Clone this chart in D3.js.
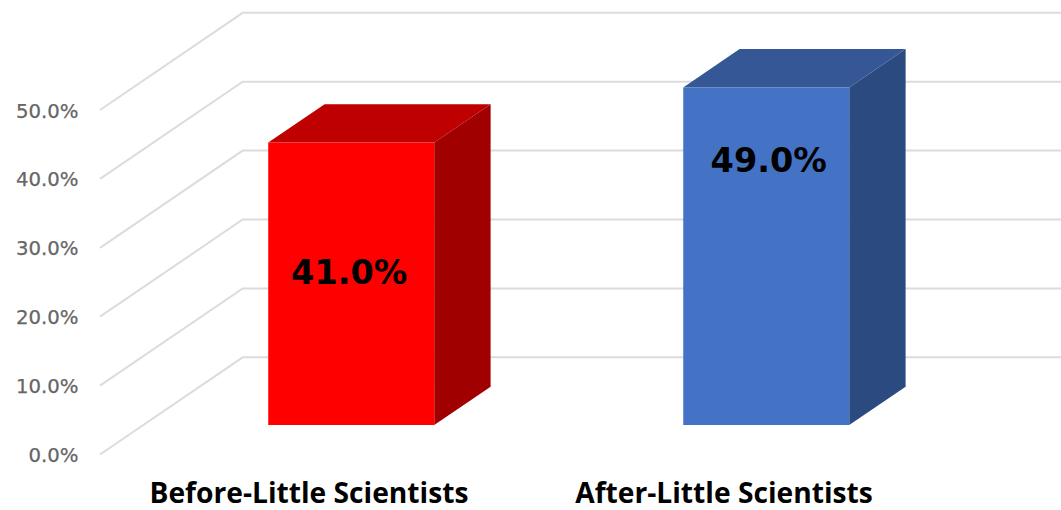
<!DOCTYPE html>
<html><head><meta charset="utf-8">
<style>html,body{margin:0;padding:0;background:#fff;overflow:hidden}svg{display:block}</style>
<script src="https://cdn.jsdelivr.net/npm/d3@7/dist/d3.min.js"></script>
</head><body><svg id="c" width="1061" height="510"></svg>
<script>
const categories = ["Before-Little Scientists", "After-Little Scientists"];
const values = [41, 49];
const valueLabels = ["41.0%", "49.0%"];
const tickValues = [0, 10, 20, 30, 40, 50];
const tickLabels = ["0.0%", "10.0%", "20.0%", "30.0%", "40.0%", "50.0%"];
const faceColors = ["#FF0000", "#4472C4"];
const topColors = ["#BE0000", "#355795"];
const sideColors = ["#A00000", "#2B4A80"];

const svg = d3.select("#c");
const y = d3.scaleLinear().domain([0, 50]).range([454.5, 110]);
const x = d3.scaleBand().domain(categories).range([100.5, 930.5]).paddingInner(0.6).paddingOuter(0.3);
const depthX = 142.7, depthY = 97.2, z0 = 0.303, z1 = 0.698;
const P = (px, v, z) => [px + depthX * z, y(v) - depthY * z];
const path = pts => d3.line()(pts) + "Z";

const grid = svg.append("g").attr("fill", "none").attr("stroke", "#dcdcdc").attr("stroke-width", 2);
grid.selectAll("path").data(tickValues).join("path")
  .attr("d", v => d3.line()([P(100, v, 0), P(100, v, 1), [1061, y(v) - depthY]]));

svg.append("g").selectAll("text").data(tickValues).join("text")
  .attr("x", 78.5).attr("y", v => y(v) + 7.5)
  .attr("text-anchor", "end").attr("fill", "#666666")
  .attr("stroke", "#666666").attr("stroke-width", 0.25)
  .attr("font-family", "DejaVu Sans").attr("font-size", 19.7)
  .text((v, i) => tickLabels[i]);

const bars = svg.append("g").selectAll("g").data(categories).join("g");
bars.append("path").attr("fill", (c, i) => sideColors[i]).attr("d", (c, i) => {
  const r = x(c) + x.bandwidth();
  return path([P(r, 0, z0), P(r, 0, z1), P(r, values[i], z1), P(r, values[i], z0)]);
});
bars.append("path").attr("fill", (c, i) => topColors[i]).attr("d", (c, i) => {
  const l = x(c), r = l + x.bandwidth();
  return path([P(l, values[i], z0), P(l, values[i], z1), P(r, values[i], z1), P(r, values[i], z0)]);
});
bars.append("path").attr("fill", (c, i) => faceColors[i]).attr("d", (c, i) => {
  const l = x(c), r = l + x.bandwidth();
  return path([P(l, 0, z0), P(l, values[i], z0), P(r, values[i], z0), P(r, 0, z0)]);
});

// data labels were placed by hand in the original, so they carry their own offsets
const labelDrop = [141, 85];
const labelShift = [-2, 2.5];
bars.append("text")
  .attr("x", (c, i) => x(c) + x.bandwidth() / 2 + depthX * z0 + labelShift[i])
  .attr("y", (c, i) => P(0, values[i], z0)[1] + labelDrop[i])
  .attr("text-anchor", "middle").attr("fill", "#000")
  .attr("font-family", "DejaVu Sans").attr("font-weight", "bold").attr("font-size", 33.5)
  .text((c, i) => valueLabels[i]);

svg.append("g").selectAll("text").data(categories).join("text")
  .attr("x", c => x(c) + x.bandwidth() / 2 + 1)
  .attr("y", 502.5)
  .attr("text-anchor", "middle").attr("fill", "#000")
  .attr("font-family", "Open Sans").attr("font-weight", "bold").attr("font-size", 28.2)
  .text(c => c);
</script></body></html>
